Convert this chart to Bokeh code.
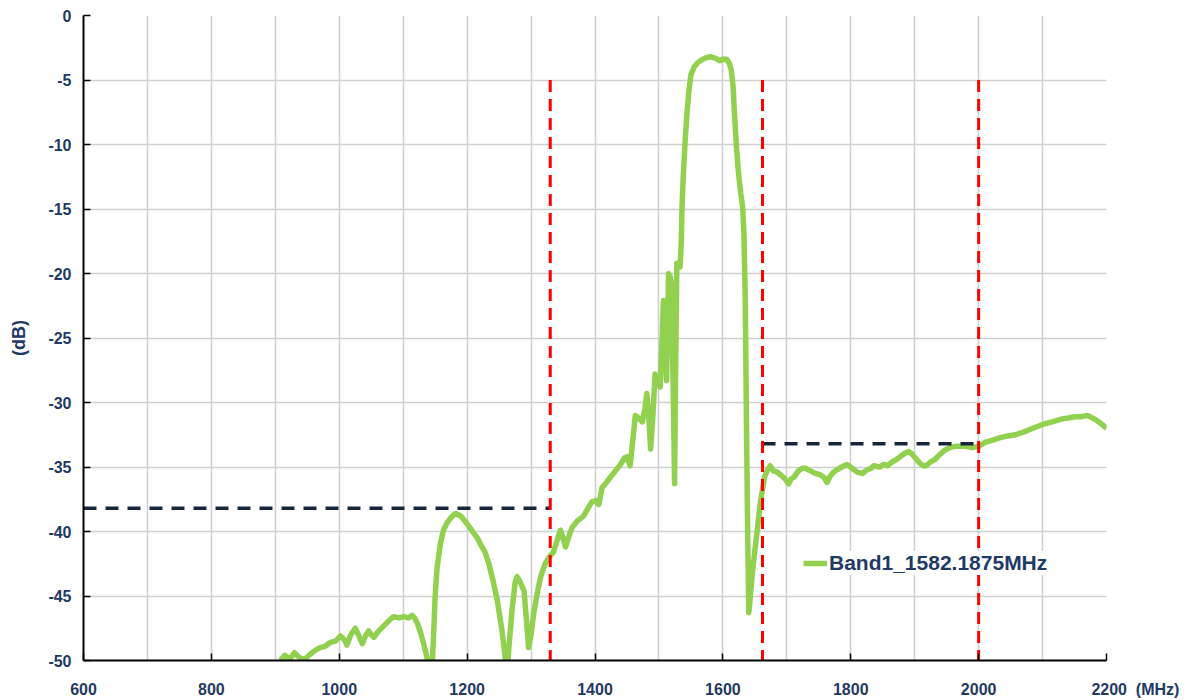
from bokeh.plotting import figure
from bokeh.models import Range1d, FixedTicker, Legend, LegendItem, ColumnDataSource
from bokeh.embed import file_html
from bokeh.resources import INLINE

# ---- data ----
freq_mhz = [908, 915, 922, 930, 938, 946, 955, 963, 970, 978, 986, 994, 1002, 1008, 1012, 1018,
            1025, 1030, 1036, 1041, 1046, 1050, 1054, 1060, 1070, 1078, 1085, 1093, 1101, 1108,
            1114, 1118, 1122, 1127, 1132, 1137, 1140, 1143, 1146, 1148, 1150, 1153, 1158, 1163,
            1169, 1175, 1182, 1190, 1200, 1210, 1216, 1221, 1228, 1234, 1240, 1247, 1254, 1259,
            1262, 1265, 1270, 1275, 1278, 1282, 1289, 1293, 1296, 1300, 1304, 1310, 1315, 1322,
            1328, 1335, 1340, 1346, 1350, 1354, 1359, 1364, 1372, 1382, 1389, 1395, 1401, 1406,
            1411, 1418, 1424, 1432, 1440, 1446, 1450, 1455, 1460, 1463, 1468, 1474, 1478, 1481,
            1484, 1487, 1490, 1494, 1498, 1502, 1505, 1507, 1510, 1512, 1514, 1515, 1518, 1520,
            1522, 1524.5, 1526, 1528, 1531, 1533, 1535, 1536, 1538, 1541, 1544, 1547, 1550, 1555,
            1560, 1565, 1572, 1580, 1588, 1595, 1600, 1606, 1610, 1613, 1616, 1618, 1621, 1624,
            1628, 1631, 1633, 1635, 1637, 1638.5, 1640.5, 1643, 1646, 1650, 1654, 1658, 1661,
            1665, 1670, 1674, 1679, 1685, 1690, 1697, 1703, 1707, 1711, 1718, 1724, 1729, 1737,
            1745, 1752, 1758, 1763, 1768, 1773, 1779, 1786, 1794, 1802, 1810, 1818, 1826, 1832,
            1836, 1845, 1852, 1857, 1865, 1872, 1880, 1886, 1891, 1896, 1901, 1908, 1913, 1918,
            1925, 1932, 1940, 1947, 1955, 1963, 1972, 1980, 1990, 2000, 2010, 2023, 2035, 2045,
            2058, 2070, 2085, 2100, 2115, 2128, 2140, 2150, 2160, 2170, 2178, 2185, 2193, 2200]
gain_db = [-50.0, -49.6, -49.9, -49.4, -49.8, -49.9, -49.5, -49.2, -49.0, -48.9, -48.6, -48.5, -48.1,
           -48.4, -48.8, -48.0, -47.5, -48.0, -48.7, -48.1, -47.7, -48.0, -48.2, -47.8, -47.3, -46.9,
           -46.6, -46.7, -46.6, -46.7, -46.5, -46.7, -47.1, -47.8, -48.7, -49.7, -51.0, -52.0, -49.7,
           -47.5, -45.0, -42.8, -41.0, -39.9, -39.3, -38.9, -38.6, -38.8, -39.4, -40.1, -40.5, -41.0,
           -41.6, -42.5, -43.7, -45.3, -47.5, -49.5, -51.5, -49.2, -46.2, -44.0, -43.5, -43.8, -44.6,
           -47.0, -49.0, -48.0, -46.4, -44.7, -43.5, -42.5, -42.0, -41.6, -40.8, -39.9, -40.5, -41.2,
           -40.4, -39.7, -39.2, -38.8, -38.2, -37.7, -37.6, -37.9, -36.6, -36.2, -35.8, -35.3, -34.8,
           -34.3, -34.2, -34.9, -32.5, -31.0, -31.2, -31.5, -30.5, -29.3, -31.0, -33.6, -31.5, -27.8,
           -28.2, -28.8, -25.0, -22.1, -25.0, -28.3, -23.0, -20.0, -20.3, -21.1, -28.0, -36.3, -28.0,
           -19.2, -19.4, -19.5, -17.5, -15.0, -12.5, -9.7, -7.5, -5.8, -4.6, -4.0, -3.7, -3.5, -3.3,
           -3.2, -3.3, -3.5, -3.4, -3.4, -3.7, -4.2, -5.5, -7.5, -10.0, -12.0, -13.8, -14.9, -17.0,
           -22.0, -32.0, -39.0, -46.3, -45.0, -43.3, -41.5, -39.8, -38.0, -37.0, -35.8, -35.2, -34.9,
           -35.3, -35.4, -35.6, -35.9, -36.3, -35.9, -35.8, -35.3, -35.1, -35.1, -35.3, -35.5, -35.6,
           -35.8, -36.2, -35.7, -35.4, -35.2, -35.0, -34.8, -35.1, -35.4, -35.5, -35.2, -35.1, -34.9,
           -35.0, -34.8, -34.9, -34.6, -34.4, -34.1, -33.9, -33.8, -34.0, -34.3, -34.7, -34.9, -34.9,
           -34.6, -34.4, -34.0, -33.7, -33.5, -33.4, -33.4, -33.4, -33.5, -33.4, -33.1, -32.9, -32.7,
           -32.6, -32.5, -32.3, -32.0, -31.7, -31.5, -31.3, -31.2, -31.1, -31.1, -31.0, -31.2, -31.4,
           -31.7, -32.0]
series_name = "Band1_1582.1875MHz"

# red vertical limit markers (MHz) and their span (dB)
limit_freqs = [1330, 1662, 2000]
limit_top = -5
limit_bottom = -50

# dark dashed spec lines
spec_x0 = [600, 1662]
spec_x1 = [1330, 2000]
spec_level = [-38.2, -33.2]

x_unit = "(MHz)"
y_unit = "(dB)"
x_ticks = [600, 800, 1000, 1200, 1400, 1600, 1800, 2000, 2200]
x_tick_labels = ["600", "800", "1000", "1200", "1400", "1600", "1800", "2000", "2200"]
x_grid = list(range(600, 2201, 100))
y_ticks = [0, -5, -10, -15, -20, -25, -30, -35, -40, -45, -50]
y_tick_labels = ["0", "-5", "-10", "-15", "-20", "-25", "-30", "-35", "-40", "-45", "-50"]

LABEL = "#1F3A64"
FONT = "Liberation Sans"
NBSP = "\u00a0"

p = figure(width=1190, height=700, output_backend="svg", toolbar_location=None,
           x_range=Range1d(600, 2200), y_range=Range1d(-50, 0),
           min_border_left=83, min_border_right=84, min_border_top=15, min_border_bottom=40)
p.outline_line_color = None
p.background_fill_color = "white"

# the unit "(MHz)" sits right of the last tick label; keep "2200" centred on its tick
overrides = {t: l for t, l in zip(x_ticks, x_tick_labels)}
overrides[x_ticks[-1]] = NBSP * 13 + x_tick_labels[-1] + NBSP * 2 + x_unit
p.xaxis.ticker = FixedTicker(ticks=x_ticks)
p.xaxis.major_label_overrides = overrides
p.yaxis.ticker = FixedTicker(ticks=y_ticks)
p.yaxis.major_label_overrides = {t: l for t, l in zip(y_ticks, y_tick_labels)}
p.xgrid.ticker = FixedTicker(ticks=x_grid)
p.ygrid.ticker = FixedTicker(ticks=y_ticks)
for g in (p.xgrid, p.ygrid):
    g.grid_line_color = "#CFCFCF"
    g.grid_line_width = 1.6

for ax in (p.xaxis, p.yaxis):
    ax.axis_line_color = "black"
    ax.axis_line_width = 2
    ax.major_tick_line_color = "black"
    ax.major_tick_line_width = 1.5
    ax.major_tick_in = 7
    ax.major_tick_out = 0
    ax.minor_tick_line_color = None
    ax.major_label_text_color = LABEL
    ax.major_label_text_font = FONT
    ax.major_label_text_font_style = "bold"
    ax.major_label_text_font_size = "16px"

p.xaxis.major_label_standoff = 20
p.yaxis.major_label_standoff = 12
p.yaxis.axis_label = y_unit
p.yaxis.axis_label_text_color = LABEL
p.yaxis.axis_label_text_font = FONT
p.yaxis.axis_label_text_font_style = "bold"
p.yaxis.axis_label_text_font_size = "18px"
p.yaxis.axis_label_standoff = 16

src = ColumnDataSource(dict(f=freq_mhz, g=gain_db))
curve = p.line("f", "g", source=src, line_color="#92D050", line_width=5.5, line_join="round")

p.segment(x0=spec_x0, x1=spec_x1, y0=spec_level, y1=spec_level,
          line_color="#16263A", line_width=3.5, line_dash="13 9")
p.segment(x0=limit_freqs, x1=limit_freqs, y0=[limit_top] * len(limit_freqs),
          y1=[limit_bottom] * len(limit_freqs),
          line_color="#FF0000", line_width=3, line_dash="12 7")

legend = Legend(items=[LegendItem(label=series_name, renderers=[curve])],
                location=(720, 85), background_fill_color="white", background_fill_alpha=1,
                border_line_color=None, label_text_color=LABEL,
                label_text_font=FONT, label_text_font_style="bold",
                label_text_font_size="21px", glyph_width=24, glyph_height=20,
                label_standoff=2, padding=8, margin=0)
p.add_layout(legend, "center")

open("out.html", "w").write(file_html(p, INLINE))
